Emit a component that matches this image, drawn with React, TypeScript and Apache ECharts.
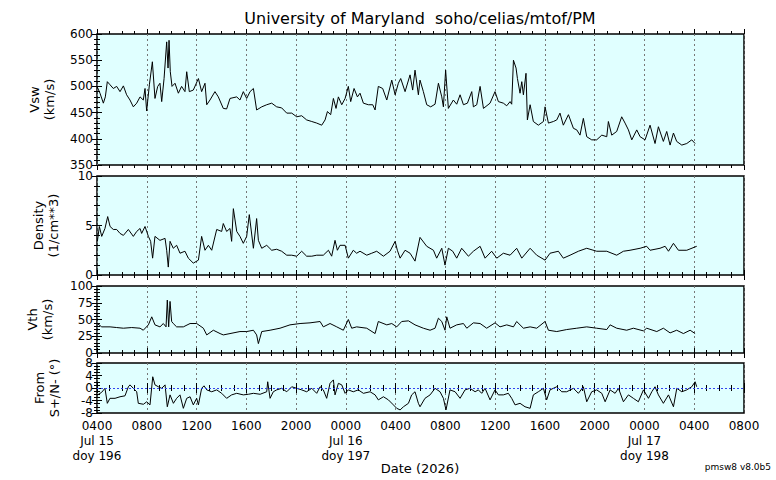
import React, { useEffect, useRef } from "react";
import * as echarts from "echarts";

// Hours after 2026-07-15 04:00 UT
const xTickLabels = [
  "0400\nJul 15\ndoy 196", "0800", "1200", "1600", "2000",
  "0000\nJul 16\ndoy 197", "0400", "0800", "1200", "1600", "2000",
  "0000\nJul 17\ndoy 198", "0400", "0800",
];

const vswHours = [0, 0.24, 0.51, 0.67, 0.83, 1.05, 1.31, 1.58, 1.85, 2.12, 2.38, 2.65, 2.92, 3.19, 3.46, 3.72, 3.86, 3.99, 4.21, 4.45, 4.66, 4.88, 5.06, 5.2, 5.39, 5.6, 5.71, 5.79, 5.89, 6.03, 6.27, 6.54, 6.8, 7.07, 7.21, 7.42, 7.74, 8.15, 8.41, 8.68, 8.82, 9.08, 9.48, 9.75, 10.15, 10.42, 10.69, 11.23, 11.49, 11.76, 12.03, 12.3, 12.57, 12.83, 13.24, 13.64, 14.04, 14.44, 14.84, 15.25, 15.65, 16.05, 16.45, 16.85, 17.26, 17.66, 18.06, 18.33, 18.52, 18.78, 19.0, 19.21, 19.4, 19.67, 19.94, 20.2, 20.39, 20.66, 20.93, 21.14, 21.41, 21.81, 22.16, 22.35, 22.61, 22.96, 23.29, 23.69, 23.96, 24.22, 24.41, 24.76, 25.16, 25.37, 25.56, 25.83, 25.96, 26.23, 26.5, 26.82, 27.17, 27.44, 27.71, 27.84, 28.02, 28.24, 28.64, 28.91, 29.18, 29.45, 29.77, 30.12, 30.25, 30.52, 30.79, 31.06, 31.59, 31.99, 32.26, 32.66, 32.93, 33.2, 33.33, 33.47, 33.68, 33.79, 34.0, 34.14, 34.27, 34.48, 34.59, 34.81, 35.07, 35.47, 35.88, 36.01, 36.28, 36.68, 36.95, 37.21, 37.48, 37.89, 38.29, 38.56, 38.82, 39.09, 39.36, 39.76, 40.16, 40.57, 40.97, 41.1, 41.37, 41.77, 42.17, 42.44, 42.71, 42.98, 43.38, 43.65, 44.05, 44.45, 44.85, 45.12, 45.52, 45.79, 46.06, 46.33, 46.59, 47.0, 47.4, 47.8, 48.07];
const vswValues = [500, 487, 468, 480, 509, 503, 496, 500, 490, 501, 484, 474, 461, 468, 480, 474, 496, 453, 503, 547, 477, 500, 506, 471, 515, 585, 535, 588, 528, 500, 506, 487, 500, 490, 528, 490, 493, 515, 490, 506, 465, 474, 490, 480, 458, 457, 477, 480, 474, 490, 477, 490, 496, 455, 461, 465, 468, 461, 459, 449, 449, 442, 444, 436, 433, 430, 426, 436, 452, 446, 477, 458, 480, 465, 477, 500, 471, 496, 480, 487, 468, 465, 465, 455, 500, 496, 474, 512, 484, 506, 515, 490, 522, 493, 531, 484, 512, 490, 465, 461, 466, 506, 480, 461, 531, 458, 474, 466, 484, 465, 468, 490, 461, 465, 500, 458, 468, 490, 471, 468, 463, 471, 466, 550, 535, 515, 487, 509, 484, 525, 436, 465, 433, 426, 433, 461, 430, 433, 436, 449, 426, 446, 420, 417, 407, 439, 404, 398, 398, 407, 404, 433, 407, 414, 442, 430, 417, 398, 417, 404, 398, 426, 391, 423, 395, 414, 388, 411, 395, 388, 391, 398, 391];

const denHours = [0.03, 0.19, 0.38, 0.64, 0.86, 1.05, 1.31, 1.58, 1.85, 2.12, 2.52, 2.92, 3.19, 3.46, 3.59, 3.86, 4.13, 4.31, 4.47, 4.66, 5.06, 5.47, 5.6, 5.73, 5.87, 6.13, 6.4, 6.67, 7.07, 7.34, 7.74, 8.15, 8.41, 8.68, 8.95, 9.22, 9.62, 10.02, 10.15, 10.42, 10.69, 10.82, 10.96, 11.23, 11.49, 11.76, 12.03, 12.24, 12.57, 12.83, 12.97, 13.24, 13.64, 14.04, 14.44, 14.84, 15.25, 15.65, 16.05, 16.45, 16.85, 17.26, 17.66, 18.19, 18.6, 18.86, 19.13, 19.32, 19.53, 19.94, 20.2, 20.6, 20.87, 21.14, 21.68, 22.08, 22.48, 23.02, 23.55, 23.96, 24.14, 24.36, 24.76, 25.16, 25.56, 25.96, 26.5, 27.04, 27.3, 27.71, 27.97, 28.24, 28.59, 28.91, 29.31, 29.85, 30.25, 30.79, 31.19, 31.72, 32.13, 32.66, 33.2, 33.73, 34.14, 34.81, 35.34, 36.01, 36.41, 37.08, 37.48, 38.02, 38.69, 39.36, 40.16, 40.97, 41.77, 42.31, 42.84, 43.65, 44.18, 44.45, 45.25, 45.66, 45.93, 46.33, 46.73, 47.4, 48.2];
const denValues = [3.4, 4.9, 3.9, 4.7, 5.9, 4.9, 4.6, 4.6, 4.2, 4.0, 4.6, 3.9, 4.4, 4.7, 4.2, 4.9, 3.9, 3.4, 1.7, 3.9, 3.5, 3.7, 2.5, 0.8, 3.4, 2.7, 3.0, 2.2, 2.4, 1.7, 1.2, 1.5, 3.9, 2.5, 3.0, 2.5, 4.6, 4.4, 5.2, 4.4, 4.7, 3.4, 6.7, 4.4, 3.9, 3.2, 3.9, 6.1, 2.7, 5.7, 3.5, 2.7, 3.0, 2.5, 2.6, 2.4, 2.0, 2.0, 1.9, 2.4, 1.9, 1.9, 2.0, 2.0, 2.5, 1.9, 3.5, 2.5, 3.0, 3.0, 1.7, 2.5, 2.2, 2.4, 2.0, 2.2, 2.4, 1.9, 2.4, 3.4, 2.5, 1.7, 2.5, 2.2, 1.4, 3.8, 2.9, 2.5, 1.7, 2.7, 1.0, 2.7, 2.4, 1.7, 2.7, 1.9, 2.4, 2.9, 1.7, 2.4, 1.7, 2.2, 2.0, 2.7, 1.7, 2.7, 2.0, 1.5, 2.2, 2.4, 1.7, 2.0, 2.4, 2.7, 2.4, 2.4, 2.0, 2.4, 2.5, 2.7, 2.9, 2.5, 2.7, 2.9, 2.4, 3.2, 2.5, 2.5, 2.9];

const vthHours = [0.03, 0.38, 1.05, 1.58, 2.12, 2.79, 3.46, 3.72, 4.13, 4.4, 4.66, 5.06, 5.33, 5.55, 5.65, 5.76, 5.87, 6.0, 6.13, 6.4, 6.94, 7.48, 8.01, 8.55, 8.82, 9.35, 9.89, 10.15, 10.69, 11.49, 12.03, 12.57, 12.83, 12.97, 13.24, 13.91, 14.71, 15.51, 16.32, 17.12, 17.93, 18.19, 18.73, 19.27, 19.8, 20.2, 20.47, 20.87, 21.68, 22.35, 22.61, 23.29, 23.69, 24.09, 24.49, 25.03, 25.56, 25.96, 26.23, 26.77, 27.17, 27.44, 27.71, 27.97, 28.11, 28.37, 28.91, 29.45, 29.72, 30.25, 30.79, 31.32, 31.99, 32.39, 32.93, 33.47, 33.73, 34.27, 34.81, 35.34, 36.01, 36.28, 36.95, 37.75, 38.56, 39.36, 40.16, 40.97, 41.24, 41.77, 42.57, 43.11, 43.92, 44.18, 44.99, 45.52, 46.06, 46.59, 47.13, 47.67, 48.07];
const vthValues = [44, 39, 39, 38, 37, 38, 37, 34, 42, 54, 42, 39, 44, 39, 79, 39, 77, 47, 44, 39, 39, 44, 44, 37, 27, 34, 29, 27, 29, 32, 32, 34, 27, 14, 32, 34, 37, 42, 44, 45, 47, 39, 44, 39, 34, 50, 37, 39, 37, 29, 47, 42, 44, 39, 47, 48, 42, 39, 37, 34, 37, 52, 47, 34, 54, 37, 42, 44, 37, 45, 44, 37, 45, 39, 42, 39, 47, 37, 39, 37, 47, 34, 32, 35, 37, 39, 37, 35, 42, 37, 34, 37, 33, 37, 32, 37, 30, 34, 29, 34, 29];

const fromHours = [0.05, 0.37, 0.64, 0.83, 1.04, 1.45, 1.85, 2.25, 2.52, 2.65, 2.92, 3.19, 3.32, 3.73, 4.0, 4.26, 4.48, 4.66, 4.93, 5.2, 5.47, 5.65, 5.87, 6.14, 6.4, 6.67, 6.94, 7.21, 7.48, 7.74, 8.01, 8.15, 8.41, 8.6, 8.82, 9.22, 9.62, 10.02, 10.42, 10.82, 11.23, 11.76, 12.17, 12.57, 13.11, 13.64, 13.72, 13.91, 14.17, 14.44, 14.84, 15.25, 15.65, 16.05, 16.45, 16.85, 17.26, 17.66, 17.93, 18.19, 18.46, 18.73, 19.0, 19.13, 19.4, 19.67, 19.94, 20.2, 20.6, 21.0, 21.41, 21.95, 22.35, 22.61, 23.02, 23.42, 23.82, 24.09, 24.36, 24.63, 25.03, 25.29, 25.56, 25.83, 25.96, 26.36, 26.77, 27.17, 27.57, 27.84, 28.05, 28.37, 28.78, 29.18, 29.58, 29.98, 30.39, 30.65, 30.92, 31.19, 31.59, 31.99, 32.26, 32.66, 33.06, 33.33, 33.6, 34.0, 34.4, 34.81, 35.07, 35.47, 35.88, 36.14, 36.41, 36.95, 37.35, 37.75, 38.29, 38.69, 39.09, 39.36, 39.76, 40.16, 40.57, 40.84, 41.24, 41.64, 41.91, 42.31, 42.71, 43.11, 43.51, 43.92, 44.32, 44.59, 44.85, 45.12, 45.52, 45.93, 46.33, 46.6, 47.0, 47.4, 47.8, 48.07, 48.2];
const fromValues = [-2.2, -1.4, -0.1, -4.9, -3.3, -3.3, -2.8, -2.5, 0.4, 1.0, -0.1, -1.2, -4.9, -5.2, -4.4, -5.4, 3.6, 1.0, 0.4, -0.1, 1.0, -6.0, -2.2, -4.9, -3.3, -2.2, -6.5, -3.3, -2.8, -5.4, -3.3, -5.4, -0.1, 0.7, -0.6, -1.2, -0.6, -1.7, -3.3, -2.2, -1.7, -2.2, -2.0, -1.7, -2.0, -1.2, 2.0, -3.3, -1.2, -0.6, -0.1, -1.2, 0.4, -0.1, -0.6, -1.2, -0.1, -1.7, 0.4, -0.6, -3.3, 1.5, 2.6, -2.2, 1.5, 1.0, -1.7, -0.6, -1.2, -0.6, -1.7, -1.2, -2.2, -3.8, -2.8, -3.8, -5.4, -6.5, -7.0, -6.0, -4.9, -2.2, -1.2, -4.9, -6.0, -3.3, -2.2, -0.1, -1.2, -3.3, -7.0, -0.6, -1.2, -3.3, -0.6, -0.1, -1.2, -0.6, -1.7, -0.1, -3.8, -0.6, -2.2, -2.2, -1.7, -3.3, -5.4, -4.9, -6.0, -6.5, -2.2, -1.2, -0.1, -3.8, -0.6, 0.4, -1.2, -1.2, -0.1, -1.7, 0.4, -4.4, -1.2, -0.6, -1.7, -4.4, -0.6, -1.7, -0.1, -4.4, -2.2, -3.3, -4.4, -0.6, -3.3, -1.2, 0.4, -2.2, -4.9, -2.2, -6.0, -0.1, -1.2, -0.6, 0.4, 2.0, 0.4];

const pair = (h: number[], v: number[]) => h.map((x, i) => [x, v[i]]);

const FONT = "DejaVu Sans";

export default function App() {
  const ref = useRef<HTMLDivElement>(null);
  useEffect(() => {
    if (!ref.current) return;
    const chart = echarts.init(ref.current, undefined, { renderer: "svg" });

    const panels = [
      { top: 34, height: 131, min: 350, max: 600, interval: 50, minor: 5, name: "Vsw\n(km/s)", gap: 40, data: pair(vswHours, vswValues) },
      { top: 176, height: 99, min: 0, max: 10, interval: 5, minor: 5, name: "Density\n(1/cm**3)", gap: 36, data: pair(denHours, denValues) },
      { top: 286, height: 67, min: 0, max: 100, interval: 25, minor: 5, name: "Vth\n(km/s)", gap: 42, data: pair(vthHours, vthValues) },
      { top: 363, height: 50, min: -8, max: 8, interval: 4, minor: 4, name: "From\nS+/N- (°)", gap: 35, data: pair(fromHours, fromValues) },
    ];

    const grid: any[] = [];
    const xAxis: any[] = [];
    const yAxis: any[] = [];
    const series: any[] = [];

    panels.forEach((p, i) => {
      grid.push({
        left: 97, width: 647, top: p.top, height: p.height,
        show: true, backgroundColor: "#e0ffff", borderColor: "#000", borderWidth: 1.5,
      });
      ["bottom", "top"].forEach((pos) => {
        const isBottom = pos === "bottom";
        xAxis.push({
          type: "value", gridIndex: i, position: pos, min: 0, max: 52, interval: 4,
          axisLine: { show: false },
          axisTick: { show: true, inside: false, length: 5, lineStyle: { color: "#000", width: 1 } },
          minorTick: { show: true, splitNumber: 4, length: 3, lineStyle: { color: "#000", width: 1 } },
          splitLine: { show: isBottom, lineStyle: { color: "#777", type: [2, 3], width: 1 } },
          axisLabel: {
            show: isBottom && i === 3,
            fontFamily: FONT, fontSize: 12, color: "#000", lineHeight: 15, margin: 5,
            formatter: (v: number) => xTickLabels[Math.round(v / 4)] ?? "",
          },
        });
      });
      ["left", "right"].forEach((pos) => {
        const isLeft = pos === "left";
        yAxis.push({
          type: "value", gridIndex: i, position: pos, min: p.min, max: p.max, interval: p.interval,
          axisLine: { show: false },
          axisTick: { show: true, inside: false, length: 5, lineStyle: { color: "#000", width: 1 } },
          minorTick: { show: true, splitNumber: p.minor, length: 3, lineStyle: { color: "#000", width: 1 } },
          splitLine: { show: false },
          axisLabel: { show: isLeft, fontFamily: FONT, fontSize: 12, color: "#000", margin: 4 },
          name: isLeft ? p.name : "",
          nameLocation: "middle", nameRotate: 90, nameGap: p.gap,
          nameTextStyle: { fontFamily: FONT, fontSize: 13, color: "#000", lineHeight: 15 },
        });
      });
      series.push({
        type: "line", xAxisIndex: i * 2, yAxisIndex: i * 2, data: p.data,
        symbol: "none", lineStyle: { color: "#000", width: 1 }, silent: true,
        markLine: i === 3 ? {
          silent: true, symbol: "none", label: { show: false },
          lineStyle: { color: "#3344ee", type: [2, 2], width: 1 },
          data: [{ yAxis: 0 }],
        } : undefined,
      });
    });

    chart.setOption({
      animation: false,
      backgroundColor: "#fff",
      grid, xAxis, yAxis, series,
      graphic: [
        { type: "text", x: 420, y: 10, style: { text: "University of Maryland  soho/celias/mtof/PM", font: `16px '${FONT}'`, fill: "#000", textAlign: "center" } },
        { type: "text", x: 420, y: 462, style: { text: "Date (2026)", font: `13px '${FONT}'`, fill: "#000", textAlign: "center" } },
        { type: "text", x: 771, y: 462, style: { text: "pmsw8 v8.0b5", font: `9px '${FONT}'`, fill: "#000", textAlign: "right" } },
      ],
    });
    return () => chart.dispose();
  }, []);
  return <div ref={ref} style={{ position: "fixed", left: 0, top: 0, width: 776, height: 480 }} />;
}
